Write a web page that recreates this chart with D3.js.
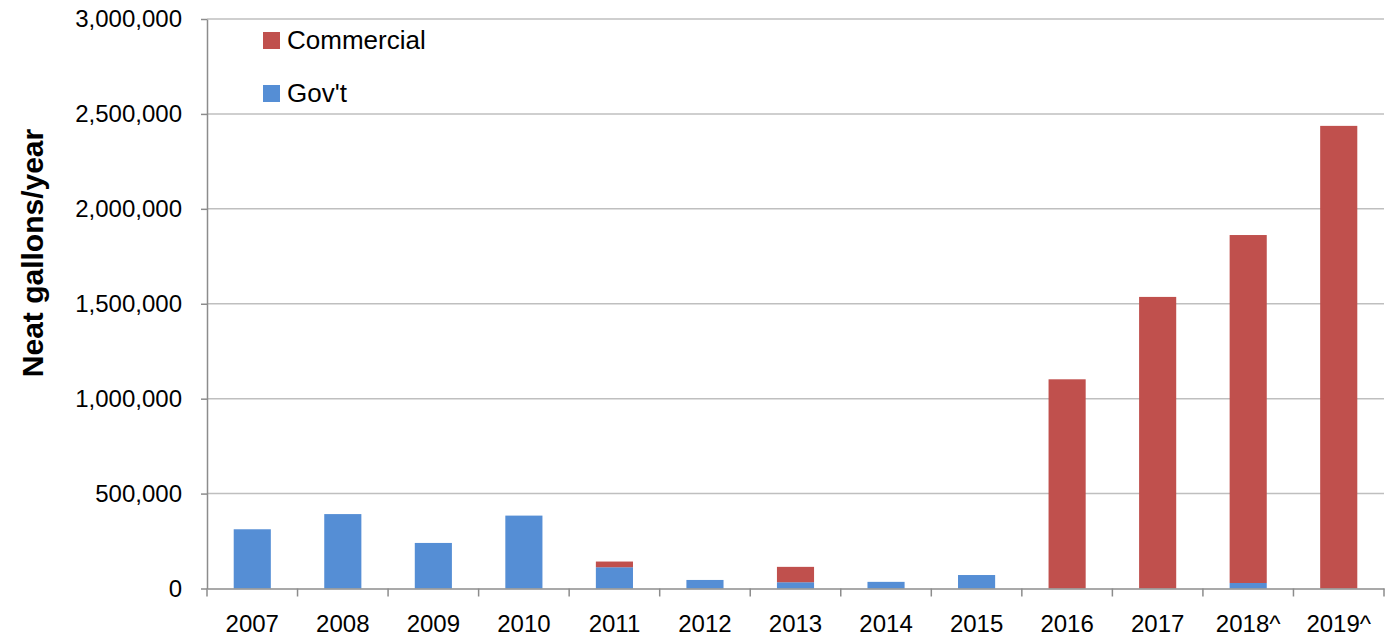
<!DOCTYPE html>
<html>
<head>
<meta charset="utf-8">
<script src="https://cdn.jsdelivr.net/npm/d3@7/dist/d3.min.js"></script>
<style>
  html, body { margin: 0; padding: 0; background: #fff; }
  svg { display: block; font-family: "Liberation Sans", Arial, sans-serif; }
</style>
</head>
<body>
<svg id="chart" width="1391" height="636"></svg>
<script>
const years = ["2007","2008","2009","2010","2011","2012","2013","2014","2015","2016","2017","2018^","2019^"];
const govValues = [312000, 392000, 240000, 384000, 112000, 45000, 33000, 35000, 71000, 0, 0, 29000, 0];
const commercialValues = [0, 0, 0, 0, 30000, 0, 81000, 0, 0, 1102000, 1536000, 1833000, 2437000];
const yTicks = [0, 500000, 1000000, 1500000, 2000000, 2500000, 3000000];
const seriesNames = ["Gov't", "Commercial"];
const seriesColors = {"Gov't": "#558ED5", "Commercial": "#C0504D"};
const legendOrder = ["Commercial", "Gov't"];

const svg = d3.select("#chart");
const plotLeft = 207, plotRight = 1384, plotTop = 19, plotBottom = 588.5;

const x = d3.scaleBand().domain(years).range([plotLeft, plotRight]).paddingInner(0.59).paddingOuter(0.295);
const y = d3.scaleLinear().domain([0, 3000000]).range([plotBottom, plotTop]);

// gridlines
svg.append("g").selectAll("line").data(yTicks.filter(d => d > 0)).join("line")
  .attr("x1", plotLeft).attr("x2", plotRight)
  .attr("y1", d => y(d)).attr("y2", d => y(d))
  .attr("stroke", "#bfbfbf").attr("stroke-width", 1.5);

// stacked bars
const rows = years.map((yr, i) => ({year: yr, "Gov't": govValues[i], "Commercial": commercialValues[i]}));
const stack = d3.stack().keys(seriesNames)(rows);
svg.append("g").selectAll("g").data(stack).join("g")
  .attr("fill", d => seriesColors[d.key])
  .selectAll("rect").data(d => d).join("rect")
  .attr("x", d => x(d.data.year))
  .attr("width", x.bandwidth())
  .attr("y", d => y(d[1]))
  .attr("height", d => Math.max(0, y(d[0]) - y(d[1])));

// y axis
const yAxis = svg.append("g").attr("transform", `translate(${plotLeft},0)`)
  .call(d3.axisLeft(y).tickValues(yTicks).tickFormat(d3.format(",")).tickSizeInner(6).tickSizeOuter(0).tickPadding(19));
yAxis.select(".domain").attr("stroke", "#8c8c8c").attr("stroke-width", 1.5);
yAxis.selectAll(".tick line").attr("stroke", "#8c8c8c").attr("stroke-width", 1.5);
yAxis.selectAll("text").attr("font-size", 24).attr("fill", "#000").attr("font-family", "Liberation Sans, Arial, sans-serif");

// x axis
const xAxis = svg.append("g").attr("transform", `translate(0,${plotBottom})`)
  .call(d3.axisBottom(x).tickSize(0).tickSizeOuter(0));
xAxis.select(".domain").attr("stroke", "#8c8c8c").attr("stroke-width", 1.5);
xAxis.selectAll("text").attr("y", 43).attr("dy", 0).attr("font-size", 24).attr("fill", "#000")
  .attr("font-family", "Liberation Sans, Arial, sans-serif");
const boundaries = d3.range(years.length + 1).map(i => plotLeft + i * (plotRight - plotLeft) / years.length);
xAxis.selectAll(".bound").data(boundaries).join("line").attr("class", "bound")
  .attr("x1", d => d).attr("x2", d => d).attr("y1", 0).attr("y2", 8)
  .attr("stroke", "#8c8c8c").attr("stroke-width", 1.5);

// y title
svg.append("text")
  .attr("transform", "translate(43,253) rotate(-90)")
  .attr("text-anchor", "middle")
  .attr("font-size", 30).attr("font-weight", "bold").attr("fill", "#000")
  .text("Neat gallons/year");

// legend
const legend = svg.append("g");
legendOrder.forEach((name, i) => {
  const gy = 32 + i * 53;
  legend.append("rect").attr("x", 263).attr("y", gy).attr("width", 17).attr("height", 17)
    .attr("fill", seriesColors[name]);
  legend.append("text").attr("x", 287).attr("y", gy + 17).attr("font-size", 26).attr("fill", "#000")
    .text(name);
});
</script>
</body>
</html>
